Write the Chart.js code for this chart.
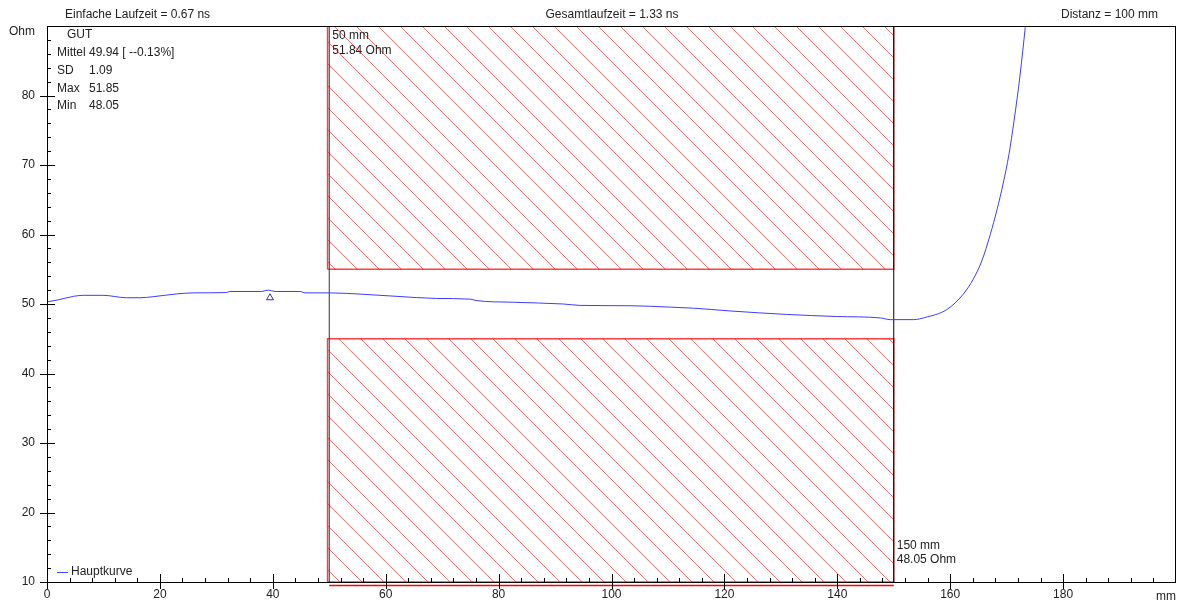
<!DOCTYPE html>
<html>
<head>
<meta charset="utf-8">
<script src="https://cdn.jsdelivr.net/npm/chart.js@4/dist/chart.umd.min.js"></script>
<style>
  html, body { margin: 0; padding: 0; background: #fff; }
  #wrap { width: 1181px; height: 602px; }
</style>
</head>
<body>
<div id="wrap"><canvas id="chart"></canvas></div>
<script>
// -------------------- data --------------------//
// Hauptkurve (mm / Ohm)
var distMm = [0, 2, 4.7, 6.4, 9.9, 14.1, 16.5, 18.8, 23, 25.9, 31.8, 32.4, 38, 39.2, 40.4, 44.8, 45.7, 50,
              56, 62, 69, 75, 76, 82.6, 91.5, 94.4, 103.3, 110.4, 114.5, 121, 131, 139.9, 147.6, 149.4,
              153.5, 155.5, 159.4, 162.3, 164.1, 165.6, 167.1, 168.3, 169.4, 170.4, 171.3, 172.4, 173.3, 173.6];
var ohm    = [50.3, 50.6, 51.1, 51.25, 51.25, 50.9, 50.9, 51.05, 51.45, 51.6, 51.65, 51.8, 51.8, 52.0, 51.8, 51.8, 51.6, 51.6,
              51.4, 51.1, 50.8, 50.7, 50.5, 50.25, 50.0, 49.8, 49.75, 49.55, 49.4, 49.0, 48.5, 48.2, 48.0, 47.75,
              47.75, 48.05, 49.2, 51.4, 53.6, 56.2, 60.0, 63.6, 67.4, 71.5, 76.3, 83.1, 89.8, 92];

var markerMm = [39.5];
var markerOhm = [50.9];

var cursorMm = [50, 150];
var bandMm = [50, 150];
var upperBand = [55, 90];
var lowerBand = [10, 45];
var baseLineOhm = 9.5;

var xTickStep = 20, xMinorStep = 4, xMin = 0, xMax = 200;
var yTickStep = 10, yMinorStep = 2, yMin = 10, yMax = 90;

var headerTexts = ["Einfache Laufzeit = 0.67 ns", "Gesamtlaufzeit = 1.33 ns", "Distanz = 100 mm"];
var statLabels = ["SD", "Max", "Min"];
var statValues = ["1.09", "51.85", "48.05"];
var statTitle = "GUT";
var statMean = "Mittel 49.94 [ --0.13%]";
var cursorLabels = [["50 mm", "51.84 Ohm"], ["150 mm", "48.05 Ohm"]];
var seriesName = "Hauptkurve";
var yUnit = "Ohm", xUnit = "mm";

// -------------------- helpers --------------------//
function pts(xs, ys) {
    return xs.map(function (x, i) { return { x: x, y: ys[i] }; });
}
function boxPts(x0, x1, y0, y1) {
    return [{ x: x0, y: y0 }, { x: x0, y: y1 }, { x: x1, y: y1 }, { x: x1, y: y0 }, { x: x0, y: y0 }];
}

// hatch pattern "\\\"
var tile = document.createElement('canvas');
var ts = 22;
tile.width = ts; tile.height = ts;
var tc = tile.getContext('2d');
tc.strokeStyle = 'rgba(255,0,0,0.55)';
tc.lineWidth = 1;
tc.beginPath();
tc.moveTo(-2, -2); tc.lineTo(ts + 2, ts + 2);
tc.moveTo(ts - 2, -2); tc.lineTo(ts + 2, 2);
tc.moveTo(-2, ts - 2); tc.lineTo(2, ts + 2);
tc.stroke();
var hatch = tc.createPattern(tile, 'repeat');

var FONT = "'Liberation Sans', Arial, sans-serif";
var TXT = '#222';

// frame, ticks and texts
var decor = {
    id: 'decor',
    afterDraw: function (chart) {
        var c = chart.ctx, a = chart.chartArea;
        var xs = chart.scales.x, ys = chart.scales.y;
        c.save();
        c.strokeStyle = '#000';
        c.lineWidth = 1;
        c.strokeRect(Math.round(a.left) + 0.5, Math.round(a.top) + 0.5,
                     Math.round(a.right - a.left) - 1, Math.round(a.bottom - a.top));
        c.beginPath();
        var v, p;
        for (v = xMin; v < xMax; v += xMinorStep) {
            p = Math.round(xs.getPixelForValue(v)) + 0.5;
            if (v % xTickStep === 0) { c.moveTo(p, a.bottom - 8); c.lineTo(p, a.bottom + 7); }
            else { c.moveTo(p, a.bottom - 4); c.lineTo(p, a.bottom); }
        }
        for (v = yMin; v < yMax; v += yMinorStep) {
            p = Math.round(ys.getPixelForValue(v)) + 0.5;
            if (v % yTickStep === 0) { c.moveTo(a.left - 7, p); c.lineTo(a.left + 8, p); }
            else { c.moveTo(a.left, p); c.lineTo(a.left + 4, p); }
        }
        c.stroke();

        c.fillStyle = TXT;
        c.font = '12px ' + FONT;
        c.textBaseline = 'middle';
        c.textAlign = 'left';
        c.fillText(headerTexts[0], 65, 15);
        c.textAlign = 'center';
        c.fillText(headerTexts[1], 612, 15);
        c.textAlign = 'right';
        c.fillText(headerTexts[2], 1158, 15);

        c.textAlign = 'left';
        c.fillText(yUnit, 9, 32);
        c.fillText(xUnit, 1156, 597);

        c.fillText(statTitle, 67, 35);
        c.fillText(statMean, 57, 53);
        statLabels.forEach(function (s, i) {
            c.fillText(s, 57, 71 + i * 17.5);
            c.fillText(statValues[i], 89, 71 + i * 17.5);
        });

        var cx0 = xs.getPixelForValue(cursorMm[0]) + 3;
        c.fillText(cursorLabels[0][0], cx0, 36);
        c.fillText(cursorLabels[0][1], cx0, 51);
        var cx1 = xs.getPixelForValue(cursorMm[1]) + 3;
        c.fillText(cursorLabels[1][0], cx1, 546);
        c.fillText(cursorLabels[1][1], cx1, 560);

        // legend
        c.strokeStyle = 'rgb(70,70,255)';
        c.beginPath();
        c.moveTo(57, 572.5); c.lineTo(68, 572.5);
        c.stroke();
        c.fillText(chart.data.datasets[0].label, 71, 572);
        c.restore();
    }
};

var ctx = document.querySelector('#chart').getContext('2d');
var chart = new Chart(ctx, {
    type: 'line',
    data: {
        datasets: [{
            label: seriesName,
            data: pts(distMm, ohm),
            borderColor: 'rgb(60,60,255)',
            borderWidth: 1,
            pointRadius: 0,
            cubicInterpolationMode: 'monotone',
            fill: false
        }, {
            label: 'marker',
            data: pts(markerMm, markerOhm),
            showLine: false,
            pointStyle: 'triangle',
            pointRadius: 4,
            pointBorderWidth: 1,
            pointBorderColor: '#303090',
            pointBackgroundColor: '#fff'
        }, {
            label: 'cursor1',
            data: [{ x: cursorMm[0], y: yMin }, { x: cursorMm[0], y: yMax }],
            borderColor: '#333',
            borderWidth: 1,
            pointRadius: 0
        }, {
            label: 'cursor2',
            data: [{ x: cursorMm[1], y: yMin }, { x: cursorMm[1], y: yMax }],
            borderColor: '#000',
            borderWidth: 1,
            pointRadius: 0
        }, {
            label: 'base',
            data: [{ x: bandMm[0], y: baseLineOhm }, { x: bandMm[1], y: baseLineOhm }],
            borderColor: 'rgb(255,0,0)',
            borderWidth: 1.5,
            pointRadius: 0,
            clip: 8
        }, {
            label: 'upper',
            data: boxPts(bandMm[0] - 0.3, bandMm[1], upperBand[0], upperBand[1]),
            borderColor: 'rgba(255,0,0,0.75)',
            borderWidth: 1.5,
            pointRadius: 0,
            backgroundColor: hatch,
            fill: 'shape'
        }, {
            label: 'lower',
            data: boxPts(bandMm[0] - 0.3, bandMm[1], lowerBand[0], lowerBand[1]),
            borderColor: 'rgba(255,0,0,0.75)',
            borderWidth: 1.5,
            pointRadius: 0,
            backgroundColor: hatch,
            fill: 'shape'
        }]
    },
    options: {
        responsive: true,
        maintainAspectRatio: false,
        animation: false,
        layout: { padding: { top: 26, right: 5, left: 0, bottom: 0 } },
        plugins: { legend: { display: false }, tooltip: { enabled: false } },
        scales: {
            x: {
                type: 'linear',
                min: xMin, max: xMax,
                afterFit: function (s) { s.height = 20; },
                grid: { display: false, drawTicks: false },
                border: { display: false },
                ticks: {
                    stepSize: xTickStep, autoSkip: false, maxRotation: 0, padding: 5,
                    color: TXT, font: { size: 12, family: FONT },
                    callback: function (v) { return v === xMax ? '' : v; }
                }
            },
            y: {
                min: yMin, max: yMax,
                afterFit: function (s) { s.width = 47; },
                grid: { display: false, drawTicks: false },
                border: { display: false },
                ticks: {
                    stepSize: yTickStep, autoSkip: false, padding: 12,
                    color: TXT, font: { size: 12, family: FONT },
                    callback: function (v) { return v === yMax ? '' : v; }
                }
            }
        }
    },
    plugins: [decor]
});
</script>
</body>
</html>
